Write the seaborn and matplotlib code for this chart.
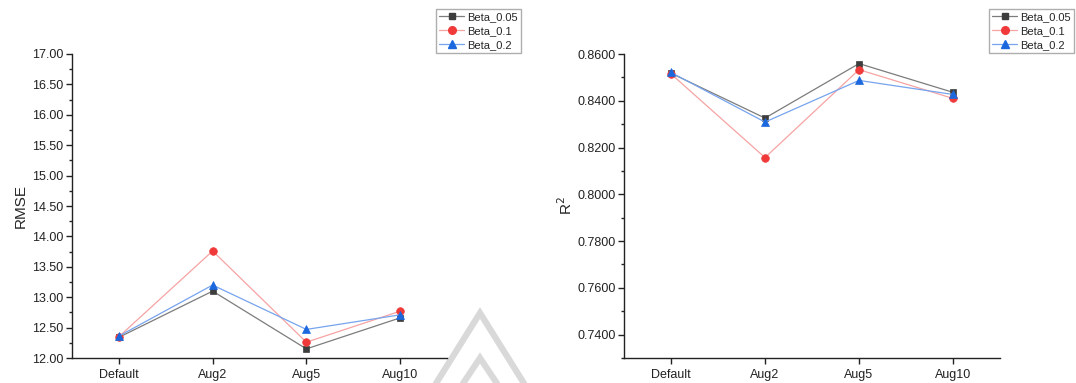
import matplotlib
matplotlib.use("Agg")
import matplotlib.pyplot as plt
from matplotlib.lines import Line2D
from matplotlib.ticker import MultipleLocator, FormatStrFormatter
import seaborn as sns
import pandas as pd

# ---- data -------------------------------------------------------------
categories = ["Default", "Aug2", "Aug5", "Aug10"]
series_names = ["Beta_0.05", "Beta_0.1", "Beta_0.2"]

rmse_beta_005 = [12.34, 13.10, 12.15, 12.66]
rmse_beta_01 = [12.35, 13.76, 12.26, 12.77]
rmse_beta_02 = [12.36, 13.20, 12.47, 12.71]

r2_beta_005 = [0.8518, 0.8326, 0.8559, 0.8436]
r2_beta_01 = [0.8515, 0.8157, 0.8533, 0.8410]
r2_beta_02 = [0.8521, 0.8309, 0.8487, 0.8427]

# ---- style ------------------------------------------------------------
sns.set_theme(style="ticks")
plt.rcParams["font.family"] = ["Liberation Sans", "DejaVu Sans"]
plt.rcParams["axes.linewidth"] = 1.0
plt.rcParams["xtick.major.width"] = 1.0
plt.rcParams["ytick.major.width"] = 1.0
plt.rcParams["ytick.minor.width"] = 1.0
plt.rcParams["xtick.major.size"] = 4
plt.rcParams["ytick.major.size"] = 4
plt.rcParams["ytick.minor.size"] = 2.2
plt.rcParams["xtick.direction"] = "out"
plt.rcParams["ytick.direction"] = "out"

marker_colors = ["#3d3d3d", "#f03a3a", "#1b68de"]
line_colors = ["#7c7c7c", "#f6a3a3", "#76a4ee"]
markers = ["s", "o", "^"]
marker_sizes = [5.0, 5.5, 6.0]


def make_frame(values):
    rows = []
    for name, vals in zip(series_names, values):
        for cat, v in zip(categories, vals):
            rows.append({"category": cat, "series": name, "value": v})
    return pd.DataFrame(rows)


rmse_df = make_frame([rmse_beta_005, rmse_beta_01, rmse_beta_02])
r2_df = make_frame([r2_beta_005, r2_beta_01, r2_beta_02])

W, H = 1076, 383
fig = plt.figure(figsize=(W / 100, H / 100), dpi=100)


def fig_rect(x0, y0, x1, y1):
    return [x0 / W, 1 - y1 / H, (x1 - x0) / W, (y1 - y0) / H]


ax1 = fig.add_axes(fig_rect(72, 54, 447, 358))
ax2 = fig.add_axes(fig_rect(624, 54, 1000, 358))


def draw_panel(ax, df, ylim, major, minor, fmt, ylabel, labelpad, legend_xy):
    handles = []
    for i, name in enumerate(series_names):
        sub = df[df["series"] == name]
        sns.lineplot(
            data=sub, x="category", y="value", ax=ax, sort=False,
            color=line_colors[i], linewidth=0.9,
            marker=markers[i], markersize=marker_sizes[i],
            markerfacecolor=marker_colors[i], markeredgecolor=marker_colors[i],
            markeredgewidth=0.5, zorder=3 + i, legend=False,
        )
        handles.append(Line2D([], [], color=line_colors[i], linewidth=0.9,
                              marker=markers[i], markersize=marker_sizes[i],
                              markerfacecolor=marker_colors[i],
                              markeredgecolor=marker_colors[i]))
    ax.set_xlim(-0.5, 3.5)
    ax.set_ylim(*ylim)
    ax.yaxis.set_major_locator(MultipleLocator(major))
    ax.yaxis.set_minor_locator(MultipleLocator(minor))
    ax.yaxis.set_major_formatter(FormatStrFormatter(fmt))
    ax.tick_params(axis="both", labelsize=9, colors="#222222", pad=2)
    ax.tick_params(axis="x", pad=4)
    ax.set_xlabel("")
    ax.set_ylabel(ylabel, fontsize=11, labelpad=labelpad)
    sns.despine(ax=ax)
    for s in ("left", "bottom"):
        ax.spines[s].set_color("#222222")
    leg = ax.legend(
        handles, series_names, loc="upper left",
        bbox_to_anchor=(legend_xy[0] / W, 1 - legend_xy[1] / H),
        bbox_transform=fig.transFigure, fontsize=8, frameon=True,
        fancybox=False, borderaxespad=0, borderpad=0.3,
        handlelength=2.2, handletextpad=0.3, labelspacing=0.35,
    )
    leg.get_frame().set_edgecolor("#9a9a9a")
    leg.get_frame().set_linewidth(1.0)


draw_panel(ax1, rmse_df, (12.0, 17.0), 0.5, 0.25, "%.2f", "RMSE", 3, (436, 9))
draw_panel(ax2, r2_df, (0.73, 0.86), 0.02, 0.01, "%.4f", "R$^2$", 2, (989, 9))

# faint triangle mark near the bottom centre
def tri(apex_x, apex_y, half_w, depth):
    xs = [apex_x - half_w, apex_x, apex_x + half_w]
    ys = [apex_y + depth, apex_y, apex_y + depth]
    return [x / W for x in xs], [1 - y / H for y in ys]

for (ax_, ay_, hw, d) in [(480, 313, 50, 80), (480, 358, 20, 30)]:
    xs, ys = tri(ax_, ay_, hw, d)
    fig.add_artist(Line2D(xs, ys, transform=fig.transFigure, color="#d9d9d9",
                          linewidth=4.5, solid_joinstyle="miter", zorder=0))

fig.savefig("out.png", dpi=100)
